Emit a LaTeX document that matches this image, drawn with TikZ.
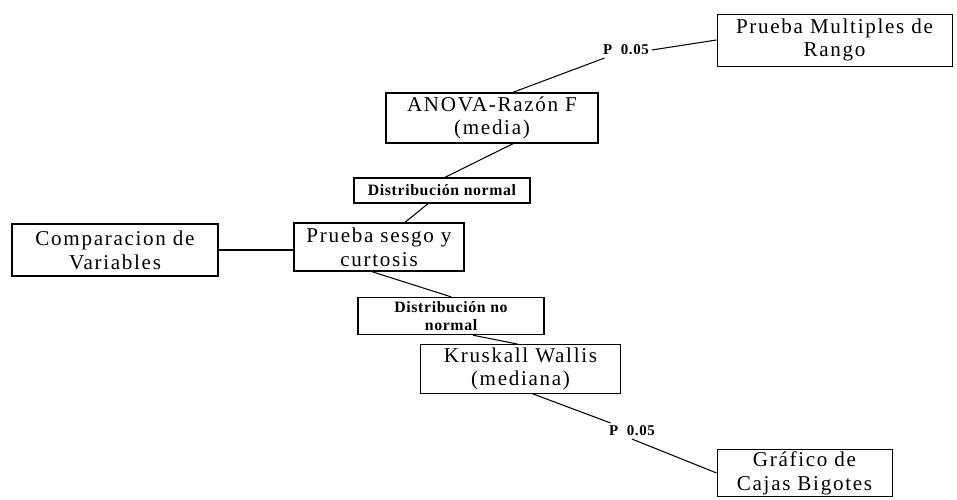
\documentclass[tikz,border=0pt]{standalone}
\usepackage{fontspec}
\setmainfont{Liberation Serif}
\newfontfamily\boxfont[LetterSpace=8]{Liberation Serif}
\newfontfamily\tagfont[LetterSpace=4]{Liberation Serif}
\usetikzlibrary{calc}

\begin{document}
\begin{tikzpicture}[
	bigbox/.style={draw,line width=0.8pt,align=center,inner sep=1pt,font=\boxfont\fontsize{12}{13.5}\selectfont},
	thinbox/.style={bigbox,line width=0.5pt},
	smallbox/.style={draw,line width=0.8pt,align=center,inner sep=1pt,font=\tagfont\bfseries\fontsize{9}{10}\selectfont},
	plabel/.style={inner sep=1.5pt,font=\tagfont\bfseries\fontsize{8.5}{10}\selectfont},
	link/.style={line width=0.6pt}]
	\useasboundingbox (0,0) rectangle (19.14,9.98);
	
	%BOXES
	\node[bigbox,minimum width=4.12cm,minimum height=1.04cm] (comp) at (2.30,4.98) {Comparacion de\\Variables};
	\node[bigbox,minimum width=3.40cm,minimum height=0.96cm] (sesgo) at (7.58,5.04) {Prueba sesgo y\\curtosis};
	\node[smallbox,minimum width=3.52cm,minimum height=0.50cm] (dnormal) at (8.84,6.17) {Distribución normal};
	\node[bigbox,minimum width=4.24cm,minimum height=1.00cm] (anova) at (9.84,7.62) {ANOVA-Razón F\\(media)};
	\node[thinbox,minimum width=4.70cm,minimum height=1.04cm] (multiples) at (16.69,9.18) {Prueba Multiples de\\Rango};
	\node[smallbox,minimum width=3.72cm,minimum height=0.74cm] (dnonormal) at (9.02,3.66) {Distribución no\\normal};
	\node[thinbox,minimum width=4.00cm,minimum height=0.98cm] (kruskal) at (10.41,2.60) {Kruskall Wallis\\(mediana)};
	\node[thinbox,minimum width=3.50cm,minimum height=0.92cm] (grafico) at (16.09,0.52) {Gráfico de\\Cajas Bigotes};
	
	%P LABELS
	\node[plabel] (pa) at (12.52,8.98) {P\ \ 0.05};
	\node[plabel] (pb) at (12.64,1.36) {P\ \ 0.05};
	
	%CONNECTORS
	\draw[link] (comp.east) -- (comp.east -| sesgo.west);
	\draw[link] ($(sesgo.north)+(0.52,0)$) -- ($(dnormal.south)+(-0.28,0)$);
	\draw[link] ($(dnormal.north)+(0.06,0)$) -- ($(anova.south)+(0.42,0)$);
	\draw[link] ($(anova.north)+(0.42,0)$) -- (pa);
	\draw[link] (pa.east) -- (multiples.west);
	%
	\draw[link] ($(sesgo.south)+(-0.14,0)$) -- (dnonormal.north);
	\draw[link] ($(dnonormal.south)+(0.44,0)$) -- ($(kruskal.north)+(-0.06,0)$);
	\draw[link] ($(kruskal.south)+(0.25,0)$) -- (pb);
	\draw[link] (pb.south) -- (grafico.west);
\end{tikzpicture}
\end{document}
